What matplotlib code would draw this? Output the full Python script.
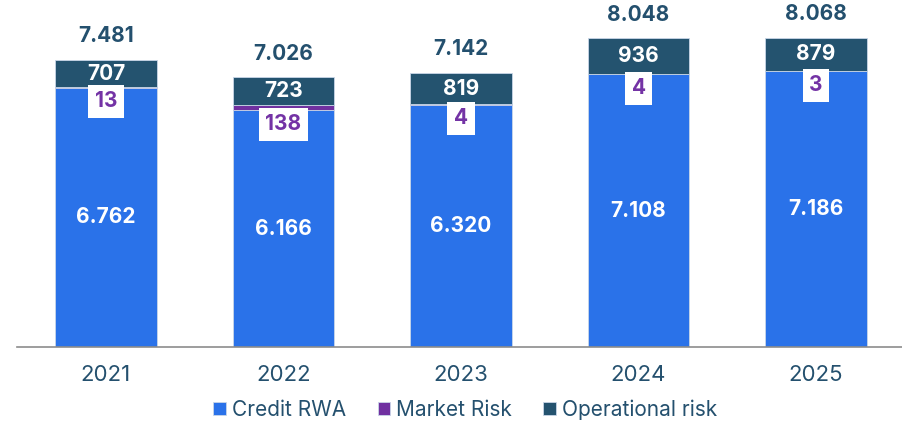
import matplotlib.pyplot as plt
import numpy as np

# ----- styles -----
plt.rcParams["font.family"] = ["Inter", "DejaVu Sans"]
txt_color = '#24506e'
c_credit = '#2a72e9'
c_market = '#7030a0'
c_oper = '#24536f'

# ----- data -----
years = ['2021', '2022', '2023', '2024', '2025']
credit = [6762, 6166, 6320, 7108, 7186]
market = [13, 138, 4, 4, 3]
oper = [707, 723, 819, 936, 879]
totals = [7481, 7026, 7142, 8048, 8068]


def fmt(v):
    return '{:,}'.format(v).replace(',', '.')


fig = plt.figure(figsize=(9.02, 4.23), dpi=100)
ax = fig.add_axes([0.0191, 0.18, 0.984, 0.82])

x = np.arange(len(years))
w = 0.57
credit = np.array(credit)
market = np.array(market)
oper = np.array(oper)

ax.bar(x, credit, w, color=c_credit, edgecolor='#c9d6e8', linewidth=0.6,
       label='Credit RWA')
ax.bar(x, market, w, bottom=credit, color=c_market, edgecolor='#c9d6e8',
       linewidth=0.6, label='Market Risk')
ax.bar(x, oper, w, bottom=credit + market, color=c_oper, edgecolor='#c9d6e8',
       linewidth=0.6, label='Operational risk')

for i in range(len(years)):
    ax.text(x[i], credit[i] / 2, fmt(credit[i]), ha='center', va='center',
            color='white', fontsize=15, fontweight='bold')
    ax.text(x[i], credit[i] + market[i] + oper[i] / 2, fmt(oper[i]),
            ha='center', va='center', color='white', fontsize=15,
            fontweight='bold')
    ax.annotate(fmt(market[i]), xy=(x[i], credit[i]), xytext=(0, -10),
                textcoords='offset points', ha='center', va='center',
                color='#7433a5', fontsize=15, fontweight='bold',
                bbox=dict(boxstyle='square,pad=0.32', fc='white', ec='none'))
    ax.annotate(fmt(totals[i]), xy=(x[i], totals[i]), xytext=(0, 17),
                textcoords='offset points', ha='center', va='center',
                color=txt_color, fontsize=15, fontweight='bold')

ax.set_xlim(-0.5, 4.5)
ax.set_ylim(0, 9046)
ax.set_xticks(x)
ax.set_xticklabels(years, fontsize=16, color=txt_color)
ax.tick_params(axis='x', length=0, pad=13)
ax.set_yticks([])
for s in ['top', 'right', 'left']:
    ax.spines[s].set_visible(False)
ax.spines['bottom'].set_color('#8c8c8c')
ax.spines['bottom'].set_linewidth(1.2)

leg = fig.legend(loc='lower center', bbox_to_anchor=(0.516, -0.037), ncol=3,
                 frameon=False, fontsize=15, handlelength=0.6,
                 handleheight=0.6, handletextpad=0.3, columnspacing=1.5)
for t in leg.get_texts():
    t.set_color(txt_color)

plt.savefig('out.png', dpi=100)
